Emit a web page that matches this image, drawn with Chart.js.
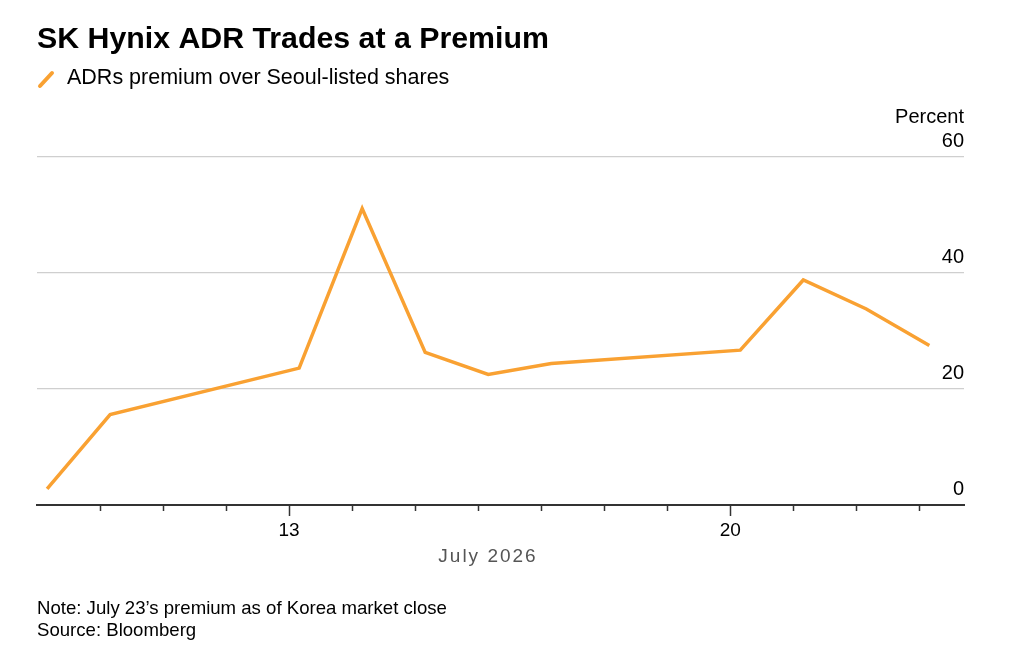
<!DOCTYPE html>
<html>
<head>
<meta charset="utf-8">
<script src="https://cdn.jsdelivr.net/npm/chart.js@4/dist/chart.umd.min.js"></script>
<style>
  html, body { margin: 0; padding: 0; background: #fff; }
  canvas { display: block; }
</style>
</head>
<body>
<canvas id="chart" width="1009" height="658"></canvas>
<script>
// July 2026 trading days, plus the fraction of the day the Seoul close lands on
const tradeDays = [9, 10, 13, 14, 15, 16, 17, 20, 21, 22, 23];
const closeOfDay = 0.16;
const premium = [2.8, 15.6, 23.6, 51.1, 26.3, 22.5, 24.4, 26.7, 38.8, 33.8, 27.5];
const yTicks = [0, 20, 40, 60];
const xLabelDays = [13, 20];
const xTickDays = [10, 11, 12, 13, 14, 15, 16, 17, 18, 19, 20, 21, 22, 23];

const orange = "#f9a132";
const FONT = "'Liberation Sans', Arial, sans-serif";

const points = tradeDays.map((d, i) => ({ x: d + closeOfDay, y: premium[i] }));

const decor = {
  id: "decor",
  afterDraw(chart) {
    const ctx = chart.ctx;
    const xs = chart.scales.x, ys = chart.scales.y;
    const right = chart.chartArea.right, bottom = chart.chartArea.bottom;
    ctx.save();

    // title + legend
    ctx.fillStyle = "#000";
    ctx.textAlign = "left";
    ctx.textBaseline = "alphabetic";
    ctx.font = "bold 30.3px " + FONT;
    ctx.fillText("SK Hynix ADR Trades at a Premium", 37, 48);

    ctx.strokeStyle = orange;
    ctx.lineWidth = 4;
    ctx.lineCap = "round";
    ctx.beginPath();
    ctx.moveTo(40, 86);
    ctx.lineTo(52, 73);
    ctx.stroke();

    ctx.font = "21.5px " + FONT;
    ctx.fillText("ADRs premium over Seoul-listed shares", 67, 84);

    // y labels sit above the gridlines
    ctx.textAlign = "right";
    ctx.font = "20px " + FONT;
    ctx.fillText("Percent", right, 123);
    yTicks.forEach(v => {
      ctx.fillText(String(v), right, ys.getPixelForValue(v) - 10);
    });

    // x tick marks, longer on labelled days
    ctx.strokeStyle = "#333";
    ctx.lineWidth = 1.5;
    ctx.lineCap = "butt";
    xTickDays.forEach(d => {
      const px = Math.round(xs.getPixelForValue(d)) + 0.5;
      const len = xLabelDays.includes(d) ? 11 : 6;
      ctx.beginPath();
      ctx.moveTo(px, bottom);
      ctx.lineTo(px, bottom + len);
      ctx.stroke();
    });

    ctx.textAlign = "center";
    ctx.font = "19px " + FONT;
    xLabelDays.forEach(d => {
      ctx.fillText(String(d), xs.getPixelForValue(d), 536);
    });

    ctx.fillStyle = "#555";
    ctx.font = "19px " + FONT;
    ctx.letterSpacing = "2px";
    ctx.fillText("July 2026", 488, 562);
    ctx.letterSpacing = "0px";

    // footnotes
    ctx.fillStyle = "#000";
    ctx.textAlign = "left";
    ctx.font = "18.6px " + FONT;
    ctx.fillText("Note: July 23\u2019s premium as of Korea market close", 37, 614);
    ctx.fillText("Source: Bloomberg", 37, 636);

    ctx.restore();
  }
};

new Chart(document.getElementById("chart"), {
  type: "line",
  data: {
    datasets: [{
      label: "ADRs premium over Seoul-listed shares",
      data: points,
      borderColor: orange,
      borderWidth: 3.5,
      pointRadius: 0,
      tension: 0,
      fill: false
    }]
  },
  options: {
    responsive: false,
    animation: false,
    events: [],
    layout: { padding: { left: 37, right: 45, top: 157, bottom: 153 } },
    plugins: { legend: { display: false }, tooltip: { enabled: false } },
    scales: {
      x: {
        type: "linear",
        min: 9,
        max: 23.71,
        grid: { display: false, drawTicks: false },
        ticks: { display: false },
        border: { display: true, color: "#333", width: 2 }
      },
      y: {
        position: "right",
        min: 0,
        max: 60,
        afterBuildTicks: s => { s.ticks = yTicks.map(v => ({ value: v })); },
        grid: { color: "#cfcfcf", lineWidth: 1.2, drawTicks: false },
        ticks: { display: false },
        border: { display: false }
      }
    }
  },
  plugins: [decor]
});
</script>
</body>
</html>
